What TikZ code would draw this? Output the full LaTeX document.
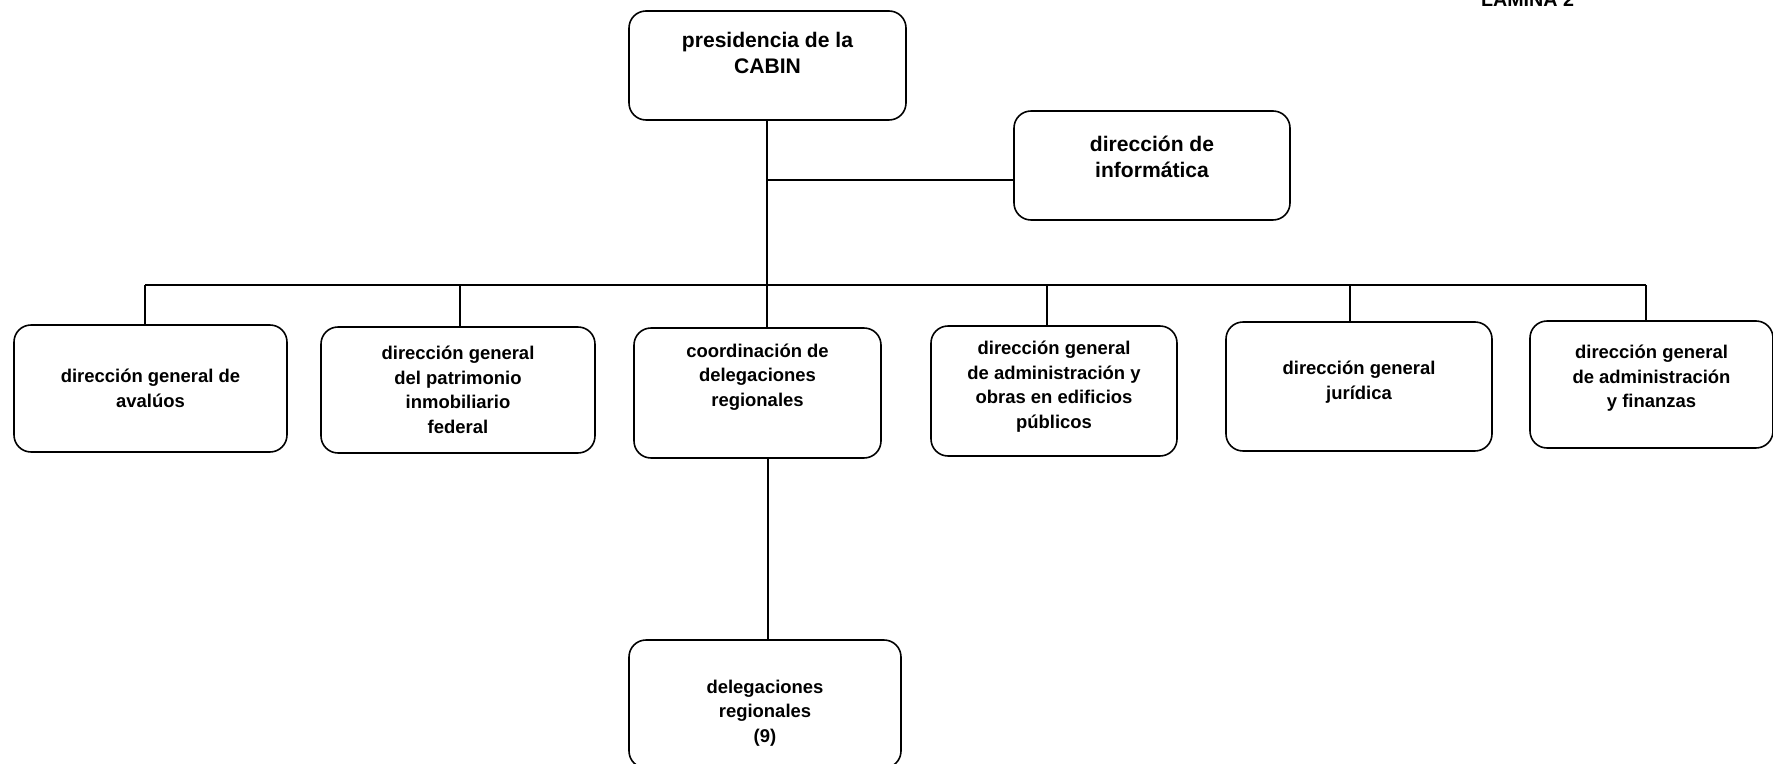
\documentclass[tikz,border=0pt]{standalone}
\usepackage{fontspec}
\setmainfont{Liberation Sans}
\begin{document}
\begin{tikzpicture}[line width=0.9pt,
    caja/.style={draw, rounded corners=0.34cm, align=center, inner sep=0pt,
      font=\bfseries\fontsize{10.5}{14}\selectfont},
    cajagrande/.style={caja, font=\bfseries\fontsize{12}{14.7}\selectfont}]
  \useasboundingbox (0,0) rectangle (35.46,-15.28);
  \clip (0,0) rectangle (35.46,-15.28);
  \node[anchor=base, font=\bfseries\fontsize{11.2}{13}\selectfont] (lamina) at (30.55,-0.14) {LAMINA 2};
  \node[cajagrande, minimum width=5.54cm, minimum height=2.18cm] (presidencia) at (15.35,-1.31) {presidencia de la\\CABIN\\\mbox{}};
  \node[cajagrande, minimum width=5.52cm, minimum height=2.18cm] (informatica) at (23.04,-3.31) {dirección de\\informática\\[-5pt]\mbox{}};
  \node[caja, minimum width=5.46cm, minimum height=2.54cm] (avaluos) at (3.01,-7.77) {dirección general de\\avalúos};
  \node[caja, minimum width=5.48cm, minimum height=2.52cm] (patrimonio) at (9.16,-7.80) {dirección general\\del patrimonio\\inmobiliario\\federal};
  \node[caja, minimum width=4.94cm, minimum height=2.60cm] (coordinacion) at (15.15,-7.86) {coordinación de\\delegaciones\\regionales\\[6.4pt]\mbox{}};
  \node[caja, minimum width=4.92cm, minimum height=2.60cm] (obras) at (21.08,-7.82) {dirección general\\de administración y\\obras en edificios\\públicos\\[-7pt]\mbox{}};
  \node[caja, minimum width=5.32cm, minimum height=2.58cm] (juridica) at (27.18,-7.73) {dirección general\\jurídica\\[-7pt]\mbox{}};
  \node[caja, minimum width=4.86cm, minimum height=2.54cm] (finanzas) at (33.03,-7.69) {dirección general\\de administración\\y finanzas\\[-5pt]\mbox{}};
  \node[caja, minimum width=5.44cm, minimum height=2.56cm] (delegaciones) at (15.30,-14.08) {\mbox{}\\[4pt]delegaciones\\regionales\\(9)};
  \coordinate (rama) at (15.34,-3.60);
  \coordinate (baja) at (15.36,0);
  \coordinate (d1) at (2.90,-5.70);
  \coordinate (d2) at (9.20,-5.70);
  \coordinate (d3) at (15.34,-5.70);
  \coordinate (d4) at (20.94,-5.70);
  \coordinate (d5) at (27.00,-5.70);
  \coordinate (d6) at (32.92,-5.70);
  \draw (presidencia.south -| d3) -- (d3);
  \draw (rama) -- (rama -| informatica.west);
  \draw (d1) -- (d6);
  \foreach \d/\b in {d1/avaluos, d2/patrimonio, d3/coordinacion, d4/obras, d5/juridica, d6/finanzas}
    \draw (\d) -- (\d |- \b.north);
  \draw (coordinacion.south -| baja) -- (delegaciones.north -| baja);
\end{tikzpicture}
\end{document}
